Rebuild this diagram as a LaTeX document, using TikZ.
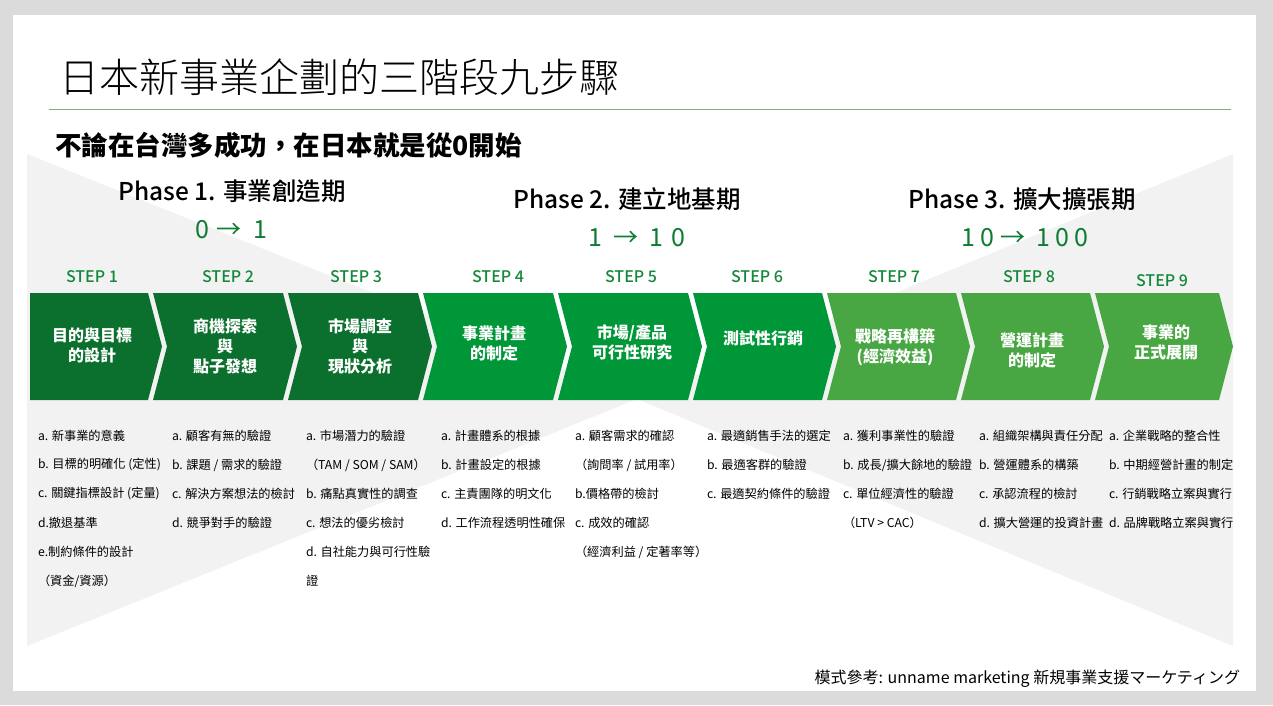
\documentclass[tikz,border=0pt]{standalone}
\usepackage{fontspec}
\setmainfont{Noto Sans CJK TC}
\newfontfamily\titlefont{Noto Sans CJK TC}[UprightFont={* Light}]
\newfontfamily\medfont{Noto Sans CJK TC}[UprightFont={* Medium}]
\definecolor{pagegray}{RGB}{219,219,219}
\definecolor{bandgray}{RGB}{242,242,242}
\definecolor{gdark}{RGB}{11,112,45}
\definecolor{gmid}{RGB}{0,151,57}
\definecolor{glight}{RGB}{72,167,66}
\definecolor{steptxt}{RGB}{22,136,60}
\definecolor{numtxt}{RGB}{14,124,52}
\definecolor{rulec}{RGB}{140,168,130}
\newcommand\chevshape[4]{%
  \fill[#3] (#1,293) -- (#2,293) -- ({#2+14},346.5) -- (#2,400) -- (#1,400) -- ({#1+#4},346.5) -- cycle;}
\newcommand\listcol[3]{%
  \foreach \t [count=\k] in {#3} {\node[listitem] (#1-\k) at (#2,{436+29*(\k-1)}) {\t};}}
\begin{document}
\begin{tikzpicture}[x=1pt,y=-1pt,
  every node/.style={inner sep=0pt, outer sep=0pt},
  listitem/.style={anchor=west, font=\fontsize{12.2}{14}\selectfont, text=black},
  steplbl/.style={font=\medfont\fontsize{16}{18}\selectfont, text=steptxt},
  phase/.style={font=\medfont\fontsize{24.5}{28}\selectfont, text=black},
  num/.style={font=\fontsize{25}{28}\selectfont, text=numtxt},
  chevtxt/.style={align=center, text=white, font=\bfseries\fontsize{16}{20}\selectfont},
]
\useasboundingbox (0,0) rectangle (1273,705);
\fill[pagegray] (0,0) rectangle (1273,705);
\fill[white] (13,15) rectangle (1256,691);
% background bow-tie
\fill[bandgray] (27,154) -- (637,399) -- (27,646) -- cycle;
\fill[bandgray] (1233,154) -- (637,399) -- (1233,646) -- cycle;
% title
\node[anchor=west, font=\titlefont\fontsize{40}{48}\selectfont] (title) at (59,77) {日本新事業企劃的三階段九步驟};
\draw[rulec, line width=1pt] (49,109) -- (1231,109);
\node[anchor=west, font=\bfseries\fontsize{26.5}{30}\selectfont] (sub) at (55,145) {不論在台灣多成功，在日本就是從0開始};
% phases
\node[phase] (ph1) at (232,191) {Phase 1. 事業創造期};
\node[phase] (ph2) at (627,199) {Phase 2. 建立地基期};
\node[phase] (ph3) at (1022,199) {Phase 3. 擴大擴張期};
\node[num] (n1) at (231,230) {0\hspace{7pt}→\hspace{12pt}1};
\node[num] (n2) at (637,238) {1\hspace{11pt}→\hspace{11pt}1\hspace{9pt}0};
\node[num] (n3) at (1025,238) {\addfontfeature{LetterSpace=22}10→ 100};
% step labels
\node[steplbl] (s1) at (92,277) {STEP 1};
\node[steplbl] (s2) at (228,277) {STEP 2};
\node[steplbl] (s3) at (356,277) {STEP 3};
\node[steplbl] (s4) at (498,277) {STEP 4};
\node[steplbl] (s5) at (631,277) {STEP 5};
\node[steplbl] (s6) at (757,277) {STEP 6};
\node[steplbl] (s7) at (894,277) {STEP 7};
\node[steplbl] (s8) at (1029,277) {STEP 8};
\node[steplbl] (s9) at (1162,281) {STEP 9};
% chevrons
\chevshape{30}{148}{gdark}{0}
\chevshape{153}{283}{gdark}{14}
\chevshape{288}{418}{gdark}{14}
\chevshape{423}{553}{gmid}{14}
\chevshape{558}{688}{gmid}{14}
\chevshape{693}{822}{gmid}{14}
\chevshape{827}{956}{glight}{14}
\chevshape{961}{1090}{glight}{14}
\chevshape{1095}{1219}{glight}{14}
\node[chevtxt] (t1) at (92,345) {目的與目標\\的設計};
\node[chevtxt] (t2) at (225,346) {商機探索\\與\\點子發想};
\node[chevtxt] (t3) at (360,346) {市場調查\\與\\現狀分析};
\node[chevtxt] (t4) at (494,343.5) {事業計畫\\的制定};
\node[chevtxt] (t5) at (632,342.5) {市場/產品\\可行性研究};
\node[chevtxt] (t6) at (763,338) {測試性行銷};
\node[chevtxt] (t7) at (895,347) {戰略再構築\\(經濟效益)};
\node[chevtxt] (t8) at (1032,350.5) {營運計畫\\的制定};
\node[chevtxt] (t9) at (1166,342.5) {事業的\\正式展開};
% lists
\listcol{c1}{38}{a. 新事業的意義, b. 目標的明確化 (定性), c. 關鍵指標設計 (定量), d.撤退基準, e.制約條件的設計, （資金/資源）}
\listcol{c2}{172}{a. 顧客有無的驗證, b. 課題 / 需求的驗證, c. 解決方案想法的檢討, d. 競爭對手的驗證}
\listcol{c3}{306}{a. 市場潛力的驗證, （TAM / SOM / SAM）, b. 痛點真實性的調查, c. 想法的優劣檢討, d. 自社能力與可行性驗, 證}
\listcol{c4}{441}{a. 計畫體系的根據, b. 計畫設定的根據, c. 主責團隊的明文化, d. 工作流程透明性確保}
\listcol{c5}{575}{a. 顧客需求的確認, （詢問率 / 試用率）, b.價格帶的檢討, c. 成效的確認, （經濟利益 / 定著率等）}
\listcol{c6}{707}{a. 最適銷售手法的選定, b. 最適客群的驗證, c. 最適契約條件的驗證}
\listcol{c7}{843}{a. 獲利事業性的驗證, b. 成長/擴大餘地的驗證, c. 單位經濟性的驗證, （LTV > CAC）}
\listcol{c8}{979}{a. 組織架構與責任分配, b. 營運體系的構築, c. 承認流程的檢討, d. 擴大營運的投資計畫}
\listcol{c9}{1109}{a. 企業戰略的整合性, b. 中期經營計畫的制定, c. 行銷戰略立案與實行, d. 品牌戰略立案與實行}
% footer
\node[anchor=east, font=\fontsize{16}{18}\selectfont] (foot) at (1240,679) {模式參考: unname marketing 新規事業支援マーケティング};
\end{tikzpicture}
\end{document}
